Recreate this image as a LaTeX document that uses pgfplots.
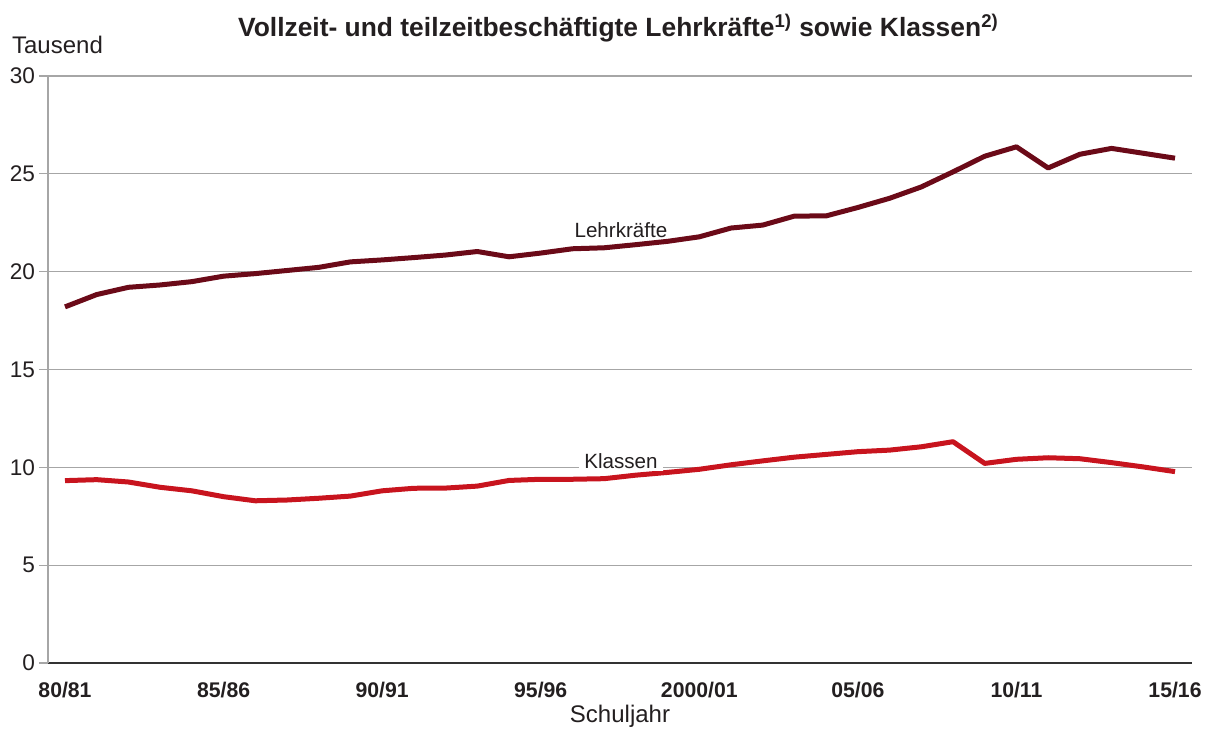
\documentclass[border=0pt]{standalone}
\usepackage{fontspec}
\setmainfont{Liberation Sans}
\usepackage{pgfplots}
\pgfplotsset{compat=1.18}
\definecolor{lehr}{HTML}{6B0A18}
\definecolor{klas}{HTML}{C8141E}
\definecolor{gridc}{HTML}{A6A6A6}
\definecolor{txt}{HTML}{231F20}
\begin{document}
\begin{tikzpicture}[x=1pt,y=1pt]
\useasboundingbox (-24,-32.5) rectangle (580.5,331.5);
\begin{axis}[at={(0,0)}, anchor=south west, scale only axis,
  width=572pt, height=293.5pt,
  xmin=-0.536, xmax=35.536, ymin=0, ymax=30, clip=false,
  axis x line*=bottom, axis y line*=left,
  axis line style={-},
  x axis line style={draw=black!80, line width=1.05pt},
  y axis line style={draw=gridc, line width=0.6pt},
  ymajorgrids, grid style={draw=gridc, line width=0.6pt},
  ytick={0,5,...,30},
  xtick={0,5,...,35},
  xticklabels={80/81,85/86,90/91,95/96,2000/01,05/06,10/11,15/16},
  xtick style={draw=none},
  ytick style={draw=gridc, line width=0.6pt},
  tick align=outside, major tick length=4.5pt,
  /pgf/number format/assume math mode=true,
  yticklabel style={font=\fontsize{11.3}{13}\selectfont, text=txt, xshift=1.5pt},
  xticklabel style={font=\bfseries\fontsize{10.6}{12}\selectfont, text=txt, anchor=base, yshift=-12.5pt},
]
\addplot[klas, line width=2.5pt, line join=round] coordinates {
(0,9.32) (1,9.37) (2,9.25) (3,8.98) (4,8.8) (5,8.5) (6,8.29) (7,8.33) (8,8.42) (9,8.53)
(10,8.8) (11,8.93) (12,8.94) (13,9.04) (14,9.33) (15,9.39) (16,9.39) (17,9.42) (18,9.6) (19,9.74)
(20,9.9) (21,10.13) (22,10.33) (23,10.52) (24,10.66) (25,10.8) (26,10.88) (27,11.05) (28,11.31) (29,10.2)
(30,10.41) (31,10.49) (32,10.44) (33,10.24) (34,10.02) (35,9.78)};
\addplot[lehr, line width=2.5pt, line join=round] coordinates {
(0,18.2) (1,18.83) (2,19.2) (3,19.32) (4,19.49) (5,19.77) (6,19.9) (7,20.06) (8,20.22) (9,20.5)
(10,20.6) (11,20.72) (12,20.85) (13,21.03) (14,20.76) (15,20.95) (16,21.17) (17,21.22) (18,21.38) (19,21.55)
(20,21.78) (21,22.23) (22,22.38) (23,22.84) (24,22.85) (25,23.28) (26,23.75) (27,24.33) (28,25.1) (29,25.9)
(30,26.38) (31,25.3) (32,26.0) (33,26.3) (34,26.05) (35,25.8)};
\node[font=\fontsize{10.3}{12}\selectfont, text=txt] at (axis cs:17.53,22.1) {Lehrkräfte};
\node[font=\fontsize{10.3}{12}\selectfont, text=txt, fill=white, inner xsep=2.5pt, inner ysep=1pt] at (axis cs:17.53,10.3) {Klassen};
\node[font=\bfseries\fontsize{13.2}{15}\selectfont, text=txt] at (axis cs:17.45,32.45) {Vollzeit- und teilzeitbeschäftigte Lehrkräfte\textsuperscript{1)} sowie Klassen\textsuperscript{2)}};
\node[font=\fontsize{12}{14}\selectfont, text=txt, anchor=west, inner sep=0pt] at (axis cs:-1.68,31.58) {Tausend};
\node[font=\fontsize{12}{14}\selectfont, text=txt] at (axis cs:17.5,-2.72) {Schuljahr};
\end{axis}
\end{tikzpicture}
\end{document}
